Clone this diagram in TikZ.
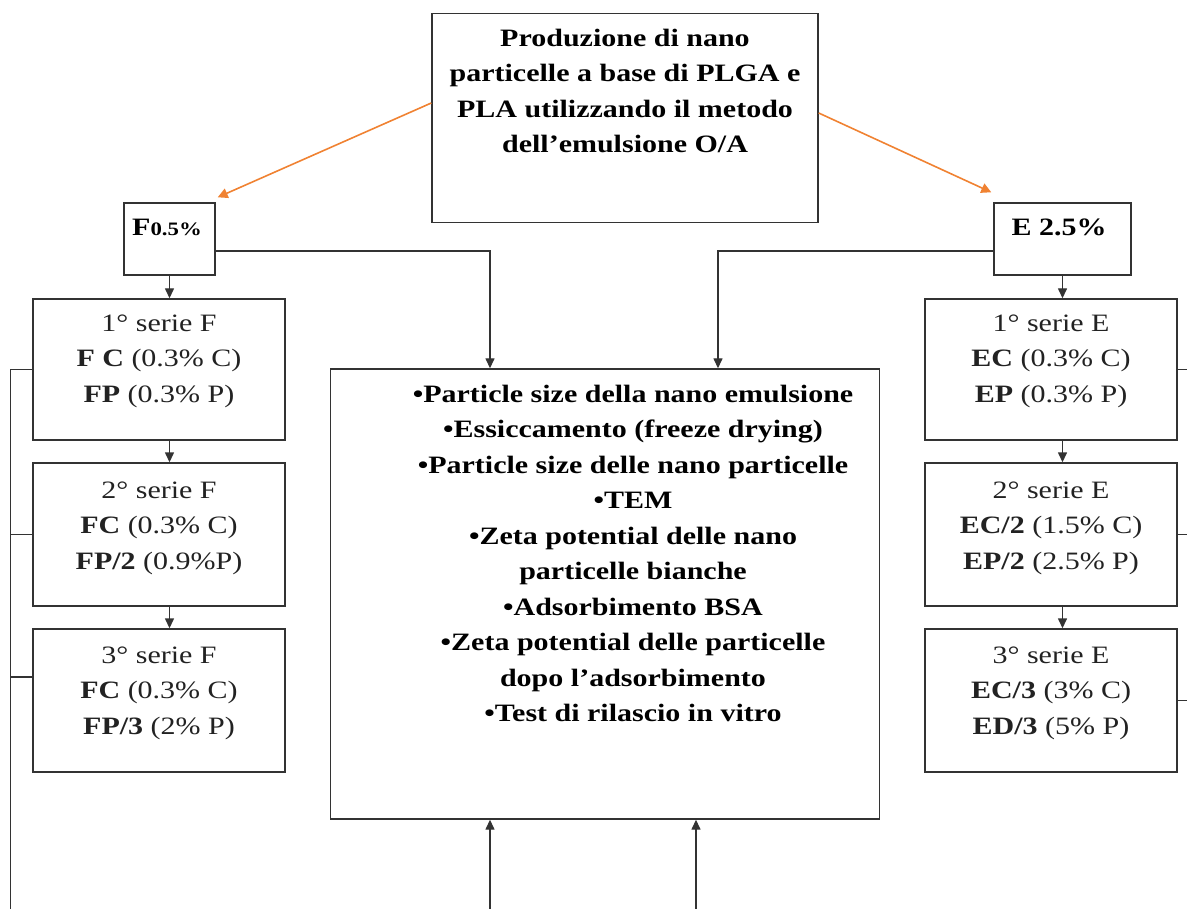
\documentclass[tikz,border=0pt]{standalone}
\usepackage{fontspec}
\setmainfont{Liberation Serif}[FakeStretch=1.2]
\usetikzlibrary{arrows.meta,calc}
\definecolor{lnc}{HTML}{333333}
\definecolor{orng}{RGB}{240,130,50}
\definecolor{txg}{HTML}{222222}
\newcommand{\fh}{\rule{0pt}{20pt}}
\begin{document}
\begin{tikzpicture}[x=1pt,y=-1pt,
  box/.style={draw=lnc,line width=1.4pt,rectangle,inner sep=0pt},
  txt/.style={align=center,inner sep=0pt,anchor=north,font=\fontsize{25}{35.5}\selectfont,text=txg},
  btxt/.style={txt,font=\fontsize{25}{35.5}\selectfont\bfseries,text=black},
  conn/.style={draw=lnc,line width=1.4pt},
  arr/.style={conn,-{Triangle[length=10pt,width=9pt]}},
  oarr/.style={draw=orng,line width=1.6pt,-{Triangle[length=10pt,width=10pt]}}]
\useasboundingbox (0,0) rectangle (1187,909);
% boxes
\node[box,minimum width=386,minimum height=209] (top) at (625,118) {};
\node[box,minimum width=91,minimum height=72] (F) at (169.5,239) {};
\node[box,minimum width=137,minimum height=72] (E) at (1062.5,239) {};
\node[box,minimum width=252,minimum height=141] (L1) at (159,369.5) {};
\node[box,minimum width=252,minimum height=143] (L2) at (159,534.5) {};
\node[box,minimum width=252,minimum height=143] (L3) at (159,700.5) {};
\node[box,minimum width=252,minimum height=141] (R1) at (1051,369.5) {};
\node[box,minimum width=252,minimum height=143] (R2) at (1051,534.5) {};
\node[box,minimum width=252,minimum height=143] (R3) at (1051,700.5) {};
\node[box,minimum width=548.5,minimum height=450] (C) at (605,594) {};
% texts
\node[btxt] (topt) at (625,26) {\fh Produzione di nano\\particelle a base di PLGA e\\PLA utilizzando il metodo\\dell’emulsione O/A};
\node[btxt,anchor=base] (Ft) at (167,236) {F{\fontsize{19}{20}\selectfont 0.5\%}};
\node[btxt,anchor=base] (Et) at (1059,236) {E 2.5\%};
\node[txt] (L1t) at (159,311) {\fh 1° serie F\\\textbf{F C} (0.3\% C)\\\textbf{FP} (0.3\% P)};
\node[txt] (L2t) at (159,478) {\fh 2° serie F\\\textbf{FC} (0.3\% C)\\\textbf{FP/2} (0.9\%P)};
\node[txt] (L3t) at (159,643) {\fh 3° serie F\\\textbf{FC} (0.3\% C)\\\textbf{FP/3} (2\% P)};
\node[txt] (R1t) at (1051,311) {\fh 1° serie E\\\textbf{EC} (0.3\% C)\\\textbf{EP} (0.3\% P)};
\node[txt] (R2t) at (1051,478) {\fh 2° serie E\\\textbf{EC/2} (1.5\% C)\\\textbf{EP/2} (2.5\% P)};
\node[txt] (R3t) at (1051,643) {\fh 3° serie E\\\textbf{EC/3} (3\% C)\\\textbf{ED/3} (5\% P)};
\node[btxt] (Ct) at (633,382) {\fh •Particle size della nano emulsione\\•Essiccamento (freeze drying)\\•Particle size delle nano particelle\\•TEM\\•Zeta potential delle nano\\particelle bianche\\•Adsorbimento BSA\\•Zeta potential delle particelle\\dopo l’adsorbimento\\•Test di rilascio in vitro};
% free ends
\coordinate (lb) at (10.5,909);
\coordinate (rb) at (1187,0);
\coordinate (b1) at (490,909);
\coordinate (b2) at (696,909);
% orange arrows
\draw[oarr] ([yshift=15pt]top.west) -- ([shift={(2pt,5pt)}]F.north east);
\draw[oarr] ([yshift=5pt]top.east) -- ([shift={(-2pt,10pt)}]E.north west);
% to center box
\draw[arr] ([yshift=-12pt]F.east) -| ([xshift=-115pt]C.north);
\draw[arr] ([yshift=-12pt]E.west) -| ([xshift=113pt]C.north);
\draw[arr] (b1) -- (b1 |- C.south);
\draw[arr] (b2) -- (b2 |- C.south);
% series chains
\draw[arr] (F.south) -- (F.south |- L1.north);
\draw[arr] (L1.south -| F.south) -- (L2.north -| F.south);
\draw[arr] (L2.south -| F.south) -- (L3.north -| F.south);
\draw[arr] (E.south) -- (E.south |- R1.north);
\draw[arr] (R1.south -| E.south) -- (R2.north -| E.south);
\draw[arr] (R2.south -| E.south) -- (R3.north -| E.south);
% left bus
\draw[conn] (L1.west) -- (lb |- L1.west) -- (lb);
\draw[conn] (L2.west) -- (lb |- L2.west);
\draw[conn] ([yshift=23.5pt]L3.west) -- ++(-22.5,0);
% right ticks
\draw[conn] (R1.east) -- (rb |- R1.east);
\draw[conn] (R2.east) -- (rb |- R2.east);
\draw[conn] (R3.east) -- (rb |- R3.east);
\end{tikzpicture}
\end{document}
